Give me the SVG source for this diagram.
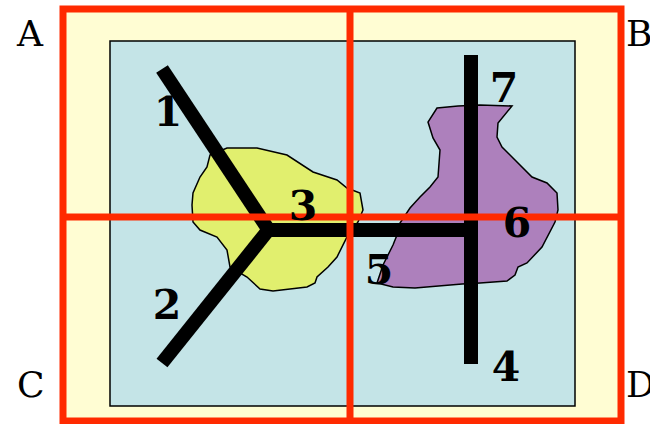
<svg xmlns="http://www.w3.org/2000/svg" width="650" height="424" viewBox="0 0 650 424">
<style>
.corner{font-size:36px;fill:#000}
.num{font-size:41px;font-weight:bold;fill:#000;text-anchor:middle}
.bar{stroke:#000;stroke-width:14;fill:none;stroke-linecap:butt}
.grid{stroke:#ff2a00;stroke-width:7;fill:none}
.blob{stroke:#000;stroke-width:1.5}
</style>
<rect width="650" height="424" fill="#fff"/>
<g id="frame">
<rect x="63" y="9" width="558" height="412" fill="#fffdd3"/>
<rect x="110" y="41" width="465" height="365" fill="#c4e4e7" stroke="#000" stroke-width="1.5"/>
</g>
<g id="region-yellow">
<path class="blob" fill="#e1ef6e" d="M210,155 L227,148 L257,148 L287,155 L313,172 L337,180 L347,188 L360,193 L363,210 L358,222 L347,237 L337,257 L328,267 L317,277 L315,283 L307,287 L273,291 L260,289 L247,277 L230,267 L227,250 L217,237 L200,230 L193,222 L192,205 L193,193 L200,177 L207,167 Z"/>
</g>
<g id="region-purple">
<path class="blob" fill="#ad80bc" d="M437,108 L458,106 L480,105 L512,106 L498,123 L497,137 L502,147 L532,177 L547,183 L557,193 L558,210 L555,222 L542,247 L527,263 L518,267 L515,275 L507,281 L480,283 L462,284 L415,288 L393,287 L377,283 L383,265 L393,245 L397,235 L400,223 L410,208 L420,197 L430,187 L438,177 L440,150 L433,138 L428,122 Z"/>
</g>
<g id="connectors">
<line class="bar" x1="162" y1="69" x2="270" y2="232"/>
<line class="bar" x1="162" y1="363" x2="270" y2="228"/>
<line class="bar" x1="264" y1="230" x2="478" y2="230" stroke-width="15"/>
<line class="bar" x1="471" y1="55" x2="471" y2="364" stroke-width="15"/>
</g>
<g id="grid">
<rect class="grid" x="63" y="9" width="558" height="412"/>
<line class="grid" x1="350" y1="9" x2="350" y2="424"/>
<line class="grid" x1="63" y1="217" x2="621" y2="217"/>
</g>
<g id="labels" font-family="DejaVu Serif, serif">
<text class="num" x="168" y="126">1</text>
<text class="num" x="167" y="319">2</text>
<text class="num" x="303" y="220">3</text>
<text class="num" x="506" y="381">4</text>
<text class="num" x="379" y="284">5</text>
<text class="num" x="517" y="237">6</text>
<text class="num" x="504" y="102">7</text>
</g>
<g id="corners" font-family="DejaVu Serif, serif">
<text class="corner" x="17" y="46">A</text>
<text class="corner" x="626" y="46">B</text>
<text class="corner" x="17" y="397">C</text>
<text class="corner" x="626" y="397">D</text>
</g>
</svg>
